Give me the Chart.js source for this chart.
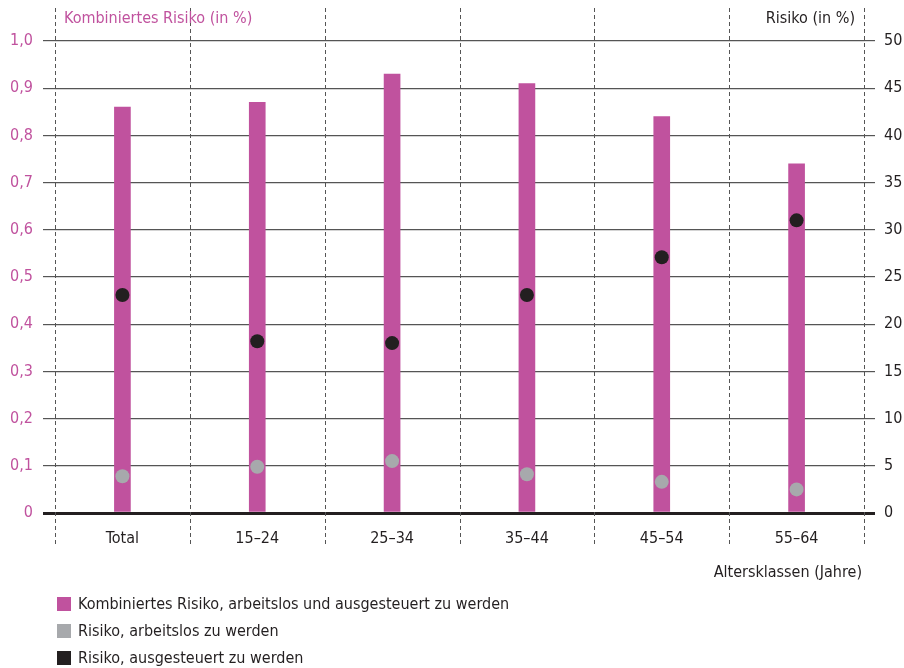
<!DOCTYPE html>
<html>
<head>
<meta charset="utf-8">
<script src="https://cdn.jsdelivr.net/npm/chart.js@4/dist/chart.umd.min.js"></script>
<style>
  html, body { margin: 0; padding: 0; background: #fff; }
  #wrap { position: relative; width: 904px; height: 668px; font-family: "Liberation Sans Narrow", "DejaVu Sans Condensed", sans-serif; }
  canvas { position: absolute; left: 0; top: 0; }
  .t { position: absolute; font-size: 16px; white-space: nowrap; line-height: 18px; }
  .leg { position: absolute; left: 57px; font-size: 16px; color: #231f20; white-space: nowrap; line-height: 18px; }
  .leg i { display: inline-block; width: 14px; height: 14px; margin-right: 7px; vertical-align: -2px; }
</style>
</head>
<body>
<div id="wrap">
  <canvas id="c" width="904" height="668"></canvas>
  <div class="t" style="left:64px; top:9px; color:#c0529e;">Kombiniertes Risiko (in %)</div>
  <div class="t" style="right:49px; top:9px; color:#231f20;">Risiko (in %)</div>
  <div class="t" style="right:42px; top:563px; color:#231f20;">Altersklassen (Jahre)</div>
  <div class="leg" style="top:595px;"><i style="background:#c0529e"></i>Kombiniertes Risiko, arbeitslos und ausgesteuert zu werden</div>
  <div class="leg" style="top:622px;"><i style="background:#a7a9ac"></i>Risiko, arbeitslos zu werden</div>
  <div class="leg" style="top:649px;"><i style="background:#231f20"></i>Risiko, ausgesteuert zu werden</div>
</div>
<script>
const categories = ['Total', '15–24', '25–34', '35–44', '45–54', '55–64'];
const combinedRisk = [0.86, 0.87, 0.93, 0.91, 0.84, 0.74];      // left axis (in %)
const unemployedRisk = [3.9, 4.9, 5.5, 4.1, 3.3, 2.5];            // right axis (in %)
const exhaustedRisk = [23.1, 18.2, 18.0, 23.1, 27.1, 31.0];       // right axis (in %)
const leftTickLabels = ['0', '0,1', '0,2', '0,3', '0,4', '0,5', '0,6', '0,7', '0,8', '0,9', '1,0'];
const rightTickLabels = ['0', '5', '10', '15', '20', '25', '30', '35', '40', '45', '50'];

const FONT = '"Liberation Sans Narrow", "DejaVu Sans Condensed", sans-serif';
const MAGENTA = '#c0529e', GREY = '#a7a9ac', DARK = '#231f20';

const dashedCats = {
  id: 'dashedCats',
  beforeDatasetsDraw(chart) {
    const x = chart.scales.x, ctx = chart.ctx;
    const step = x.getPixelForValue(1) - x.getPixelForValue(0);
    ctx.save();
    ctx.strokeStyle = '#555';
    ctx.lineWidth = 1;
    ctx.setLineDash([4, 3]);
    for (let i = 0; i <= categories.length; i++) {
      const px = Math.round(x.getPixelForValue(i) - step / 2) + 0.5;
      ctx.beginPath();
      ctx.moveTo(px, 8);
      ctx.lineTo(px, 545);
      ctx.stroke();
    }
    ctx.restore();
  }
};

new Chart(document.getElementById('c'), {
  data: {
    labels: categories,
    datasets: [
      { type: 'line', label: 'Risiko, ausgesteuert zu werden', data: exhaustedRisk, yAxisID: 'y1',
        showLine: false, pointRadius: 7, pointHoverRadius: 7, pointBackgroundColor: DARK, pointBorderWidth: 0, order: 1 },
      { type: 'line', label: 'Risiko, arbeitslos zu werden', data: unemployedRisk, yAxisID: 'y1',
        showLine: false, pointRadius: 7, pointHoverRadius: 7, pointBackgroundColor: GREY, pointBorderWidth: 0, order: 2 },
      { type: 'bar', label: 'Kombiniertes Risiko, arbeitslos und ausgesteuert zu werden', data: combinedRisk, yAxisID: 'y',
        backgroundColor: MAGENTA, barThickness: 16, order: 3 }
    ]
  },
  options: {
    responsive: false,
    animation: false,
    layout: { padding: { top: 41, left: 0, right: 0, bottom: 0 } },
    plugins: { legend: { display: false }, tooltip: { enabled: false } },
    scales: {
      x: {
        offset: true,
        grid: { display: false, drawTicks: false },
        border: { display: false },
        ticks: { color: DARK, font: { family: FONT, size: 16 }, padding: 16 },
        afterFit(s) { s.height = 155; }
      },
      y: {
        position: 'left', min: 0, max: 1,
        ticks: { stepSize: 0.1, color: MAGENTA, font: { family: FONT, size: 16 }, padding: 10,
                 callback: (v, i) => leftTickLabels[i] },
        grid: { color: (c) => c.tick && c.tick.value === 0 ? DARK : '#555',
                lineWidth: (c) => c.tick && c.tick.value === 0 ? 3 : 1.2,
                tickLength: 12 },
        border: { display: false },
        afterFit(s) { s.width = 55; }
      },
      y1: {
        position: 'right', min: 0, max: 50,
        ticks: { stepSize: 5, color: DARK, font: { family: FONT, size: 16 }, padding: 9,
                 callback: (v, i) => rightTickLabels[i] },
        grid: { drawOnChartArea: false, color: (c) => c.tick && c.tick.value === 0 ? DARK : '#555',
                lineWidth: (c) => c.tick && c.tick.value === 0 ? 3 : 1.2, tickLength: 11 },
        border: { display: false },
        afterFit(s) { s.width = 40; }
      }
    }
  },
  plugins: [dashedCats]
});
</script>
</body>
</html>
